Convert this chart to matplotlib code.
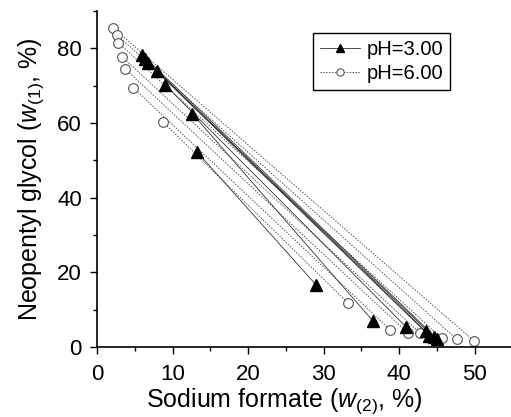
import matplotlib
matplotlib.use("Agg")
import matplotlib.pyplot as plt
from matplotlib.ticker import MultipleLocator

plt.rcParams['font.family'] = ['Liberation Sans', 'DejaVu Sans']
plt.rcParams['mathtext.fontset'] = 'custom'
plt.rcParams['mathtext.rm'] = 'Liberation Sans'
plt.rcParams['mathtext.it'] = 'Liberation Sans:italic'

# pH = 3.00 tie lines: top phase (x, y) and bottom phase (x, y)
ph3_top_x = [5.95, 6.35, 6.7, 7.9, 9.0, 12.6, 13.2]
ph3_top_y = [78.3, 77.0, 76.1, 74.0, 70.2, 62.5, 52.3]
ph3_bot_x = [45.0, 44.6, 44.0, 43.5, 40.9, 36.5, 29.0]
ph3_bot_y = [2.2, 2.6, 3.0, 4.2, 5.4, 7.0, 16.6]

# pH = 6.00 tie lines
ph6_top_x = [2.1, 2.6, 2.8, 3.3, 3.7, 4.8, 8.7]
ph6_top_y = [85.5, 83.6, 81.5, 77.7, 74.5, 69.4, 60.3]
ph6_bot_x = [49.9, 47.6, 45.6, 42.7, 41.1, 38.8, 33.2]
ph6_bot_y = [1.6, 2.1, 2.4, 3.8, 3.8, 4.6, 11.8]

fig = plt.figure(figsize=(5.11, 4.17), dpi=100)
ax = fig.add_axes([0.19, 0.168, 0.81, 0.806])

for i in range(len(ph6_top_x)):
    ax.plot([ph6_top_x[i], ph6_bot_x[i]], [ph6_top_y[i], ph6_bot_y[i]],
            linestyle=(0, (1.5, 1.5)), color='#555555', lw=0.7,
            marker='o', markersize=7, markerfacecolor='white',
            markeredgecolor='#555555', markeredgewidth=0.8,
            label='pH=6.00' if i == 0 else None, zorder=2)

for i in range(len(ph3_top_x)):
    ax.plot([ph3_top_x[i], ph3_bot_x[i]], [ph3_top_y[i], ph3_bot_y[i]],
            linestyle='-', color='#333333', lw=0.6,
            marker='^', markersize=8, markerfacecolor='black',
            markeredgecolor='black',
            label='pH=3.00' if i == 0 else None, zorder=3)

ax.set_xlim(0, 54.8)
ax.set_ylim(0, 90)
ax.xaxis.set_major_locator(MultipleLocator(10))
ax.xaxis.set_minor_locator(MultipleLocator(5))
ax.yaxis.set_major_locator(MultipleLocator(20))
ax.yaxis.set_minor_locator(MultipleLocator(10))
ax.tick_params(which='major', direction='out', length=5, width=1, labelsize=16)
ax.tick_params(axis='y', which='major', pad=6)
ax.tick_params(axis='x', which='major', pad=7)
ax.tick_params(which='minor', direction='out', length=3, width=1)
for s in ['top', 'right']:
    ax.spines[s].set_visible(False)
for s in ['left', 'bottom']:
    ax.spines[s].set_linewidth(1.2)

ax.set_xlabel('Sodium formate ($w_{(2)}$, %)', fontsize=18, labelpad=1)
ax.xaxis.label.set_x(0.452)
ax.set_ylabel('Neopentyl glycol ($w_{(1)}$, %)', fontsize=18, labelpad=8)

handles, labels = ax.get_legend_handles_labels()
order = [labels.index('pH=3.00'), labels.index('pH=6.00')]
leg = ax.legend([handles[k] for k in order], [labels[k] for k in order],
                loc='upper left', bbox_to_anchor=(0.522, 0.935),
                borderaxespad=0,
                fontsize=14.5, frameon=True, fancybox=False, framealpha=1,
                edgecolor='black', handlelength=2.0, borderpad=0.35,
                labelspacing=0.25, handletextpad=0.3, markerscale=0.75)
leg.get_frame().set_linewidth(1.0)

fig.savefig('out.png', dpi=100)
